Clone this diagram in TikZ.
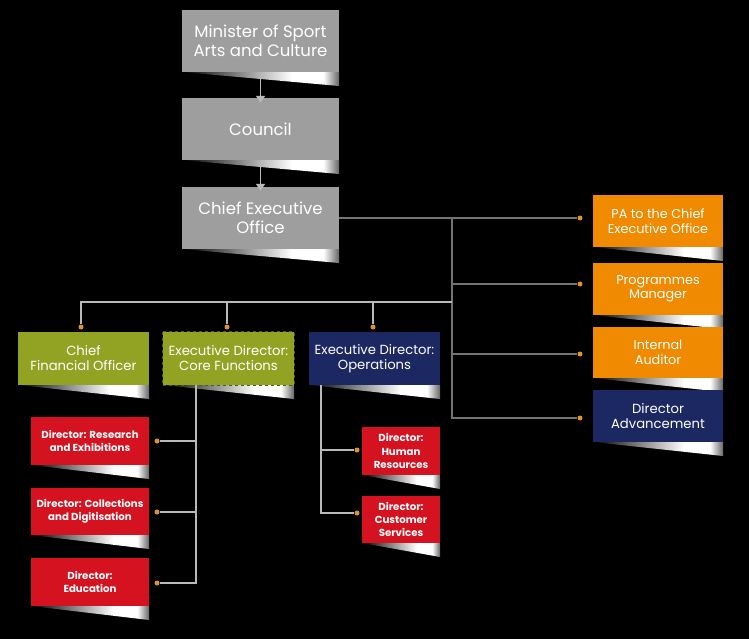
\documentclass[tikz,border=0pt]{standalone}
\usepackage{fontspec}
\setmainfont{Poppins}
\usetikzlibrary{arrows.meta}
\definecolor{boxgray}{RGB}{158,158,158}
\definecolor{olive}{RGB}{146,163,36}
\definecolor{navy}{RGB}{27,40,97}
\definecolor{orng}{RGB}{240,138,0}
\definecolor{rd}{RGB}{213,18,32}
\definecolor{dot}{RGB}{222,146,48}
\definecolor{lnlight}{RGB}{185,185,185}
\definecolor{lndark}{RGB}{115,115,115}
\pgfdeclarehorizontalshading{curl}{100bp}{color(0bp)=(black); color(25bp)=(black); color(60bp)=(white); color(70bp)=(white); color(75bp)=(black!60); color(100bp)=(black!60)}
\tikzset{
  box/.style={inner sep=0pt, align=center, text=white},
  gbox/.style={box, fill=boxgray, font=\fontsize{16.5}{18.5}\selectfont},
  grn/.style={box, fill=olive, font=\fontsize{13.2}{15}\selectfont},
  nvy/.style={box, fill=navy, font=\fontsize{13.2}{15}\selectfont},
  org/.style={box, fill=orng, font=\fontsize{12.8}{14.5}\selectfont},
  red/.style={box, fill=rd, font=\bfseries\fontsize{10.2}{13.2}\selectfont},
  lnl/.style={draw=lnlight, line width=1.8pt},
  lnd/.style={draw=lndark, line width=1.8pt},
  enddot/.style={circle, fill=dot, inner sep=0pt, minimum size=5pt},
}
\newcommand\obox[7]{%
  \shade[shading=curl] (#2,#5) -- (#4,#5) -- (#4,#5+14) -- cycle;
  \node[#6, minimum width=#4pt-#2pt, minimum height=#5pt-#3pt] (#1) at ({(#2+#4)/2},{(#3+#5)/2}) {#7};}
\begin{document}
\begin{tikzpicture}[x=1pt,y=-1pt]
\fill[black] (0,0) rectangle (749,639);
\useasboundingbox (0,0) rectangle (749,639);
% top column
\obox{min}{182}{10}{339}{72}{gbox}{Minister of Sport\\Arts and Culture}
\obox{cou}{182}{98}{339}{160}{gbox}{Council}
\obox{ceo}{182}{187}{339}{249}{gbox}{Chief Executive\\Office}
\draw[draw=lnlight, line width=1.6pt, -{Triangle[width=9pt,length=7pt]}] ([yshift=-3pt]min.south) -- ([yshift=-5pt]cou.north);
\draw[draw=lnlight, line width=1.6pt, -{Triangle[width=9pt,length=7pt]}] ([yshift=-4pt]cou.south) -- ([yshift=-4pt]ceo.north);
% right column
\obox{pa}{593}{195}{723}{247}{org}{PA to the Chief\\Executive Office}
\obox{prog}{593}{263}{723}{315}{org}{Programmes\\Manager}
\obox{aud}{593}{327}{723}{378}{org}{Internal\\Auditor}
\obox{adv}{593}{390}{723}{442}{nvy}{Director\\Advancement}
% level 2
\obox{cfo}{18}{332}{149}{385}{grn}{Chief\\Financial Officer}
\obox{core}{163}{332}{294}{385}{grn}{Executive Director:\\Core Functions}
\draw[draw=black!45!olive, dashed, line width=0.8pt] (core.north west) rectangle (core.south east);
\obox{ops}{309}{332}{440}{385}{nvy}{Executive Director:\\Operations}
% level 3
\obox{res}{31}{417}{149}{465}{red}{Director: Research\\and Exhibitions}
\obox{col}{31}{488}{149}{535}{red}{Director: Collections\\and Digitisation}
\obox{edu}{31}{558}{149}{606}{red}{Director:\\Education}
\obox{hr}{362}{427}{440}{475}{red}{Director:\\Human\\Resources}
\obox{cs}{362}{496}{440}{543}{red}{Director:\\Customer\\Services}
% right connectors
\coordinate (bus) at (452,218);
\coordinate (busb) at (452,418);
\node[enddot] (dpa) at (580,218) {};
\node[enddot] (dprog) at (580,284) {};
\node[enddot] (daud) at (580,354) {};
\node[enddot] (dadv) at (580,418) {};
\draw[lnd] (ceo.east |- bus) -- (dpa);
\draw[lnd] (bus) -- (busb) -- (dadv);
\draw[lnd] (bus |- dprog) -- (dprog);
\draw[lnd] (bus |- daud) -- (daud);
% left bus
\coordinate (lbus) at (452,302);
\node[enddot] (dcfo) at (81,327) {};
\node[enddot] (dcore) at (227,327) {};
\node[enddot] (dops) at (373,327) {};
\draw[lnl] (lbus) -- (dcfo |- lbus) -- (dcfo);
\draw[lnl] (dcore |- lbus) -- (dcore);
\draw[lnl] (dops |- lbus) -- (dops);
% core functions branch
\coordinate (cv) at (196,385);
\node[enddot] (dres) at (157,441) {};
\node[enddot] (dcol) at (157,512) {};
\node[enddot] (dedu) at (157,583) {};
\draw[lnl] (cv) -- (cv |- dedu) -- (dedu);
\draw[lnl] (cv |- dres) -- (dres);
\draw[lnl] (cv |- dcol) -- (dcol);
% operations branch
\coordinate (ov) at (321,385);
\node[enddot] (dhr) at (357,450) {};
\node[enddot] (dcs) at (357,513) {};
\draw[lnl] (ov) -- (ov |- dcs) -- (dcs);
\draw[lnl] (ov |- dhr) -- (dhr);
\end{tikzpicture}
\end{document}
